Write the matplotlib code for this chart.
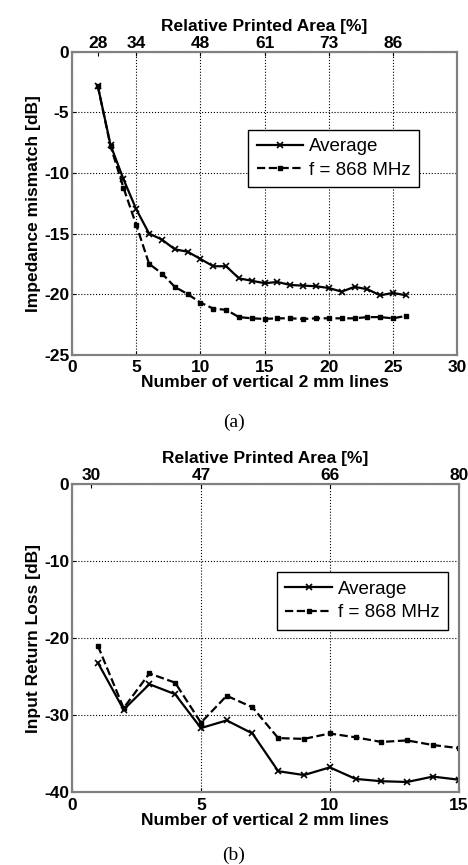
import matplotlib
matplotlib.use("Agg")
import matplotlib.pyplot as plt

plt.rcParams["font.family"] = ["Liberation Sans", "DejaVu Sans"]
plt.rcParams["font.weight"] = "bold"
plt.rcParams["axes.unicode_minus"] = False

# (a) impedance mismatch vs number of lines
a_lines = list(range(2, 27))
a_avg = [-2.8, -7.7, -10.5, -13.0, -15.0, -15.5, -16.3, -16.5, -17.1, -17.7, -17.7,
         -18.7, -18.9, -19.1, -19.0, -19.25, -19.3, -19.35, -19.5, -19.8, -19.4,
         -19.6, -20.1, -19.9, -20.1]
a_868 = [-2.8, -7.8, -11.2, -14.3, -17.5, -18.3, -19.4, -20.0, -20.7, -21.2, -21.3,
         -21.9, -22.0, -22.05, -22.0, -22.0, -22.05, -22.0, -22.0, -22.0, -22.0,
         -21.9, -21.9, -22.0, -21.8]
a_top_pos = [2, 5, 10, 15, 20, 25]
a_top_lab = ["28", "34", "48", "61", "73", "86"]

# (b) input return loss vs number of lines
b_lines = list(range(1, 16))
b_avg = [-23.2, -29.3, -26.0, -27.3, -31.7, -30.7, -32.4, -37.3, -37.8, -36.8,
         -38.3, -38.6, -38.7, -38.0, -38.4]
b_868 = [-21.0, -29.1, -24.6, -25.8, -31.0, -27.5, -29.0, -33.0, -33.1, -32.4,
         -32.9, -33.5, -33.3, -33.9, -34.3]
b_top_pos = [0.75, 5, 10, 15]
b_top_lab = ["30", "47", "66", "80"]

FS = 12.5


def style_spines(ax):
    for s in ax.spines.values():
        s.set_color("#808080")
        s.set_linewidth(1.5)


def panel(fig, rect, x, avg, f868, xlim, xticks, ylim, yticks, top_pos, top_lab,
          ylabel, leg_box):
    ax = fig.add_axes(rect)
    ax.plot(x, avg, "-", color="black", lw=1.6, marker="x", ms=5, mew=1.2,
            label="Average")
    ax.plot(x, f868, "--", color="black", lw=1.6, marker="s", ms=3,
            label="f = 868 MHz")
    ax.set_xlim(*xlim)
    ax.set_ylim(*ylim)
    ax.set_xticks(xticks)
    ax.set_yticks(yticks)
    ax.grid(True, ls=":", color="black", lw=0.8)
    ax.tick_params(axis="x", labelsize=FS, length=3, direction="in", pad=4)
    ax.tick_params(axis="y", labelsize=FS, length=3, direction="in", pad=2)
    style_spines(ax)
    ax.set_xlabel("Number of vertical 2 mm lines", fontsize=FS, fontweight="bold",
                  labelpad=0)
    ax.set_ylabel(ylabel, fontsize=FS, fontweight="bold", labelpad=2)
    top = ax.twiny()
    top.set_xlim(*xlim)
    top.set_xticks(top_pos)
    top.set_xticklabels(top_lab)
    top.tick_params(labelsize=FS, length=3, direction="in", pad=1)
    style_spines(top)
    top.set_xlabel("Relative Printed Area [%]", fontsize=FS, fontweight="bold",
                   labelpad=3)
    leg = ax.legend(loc="upper left", bbox_to_anchor=leg_box, fontsize=FS + 1,
                    fancybox=False, edgecolor="black", framealpha=1,
                    handlelength=2.5, borderaxespad=0, handletextpad=0.3,
                    labelspacing=0.35, borderpad=0.45)
    leg.get_frame().set_linewidth(1.0)
    for t in leg.get_texts():
        t.set_fontweight("normal")
    return ax


fig = plt.figure(figsize=(4.68, 8.65), dpi=100)

panel(fig, [0.154, 0.590, 0.823, 0.350], a_lines, a_avg, a_868, (0, 30),
      [0, 5, 10, 15, 20, 25, 30], (-25, 0), [-25, -20, -15, -10, -5, 0],
      a_top_pos, a_top_lab, "Impedance mismatch [dB]", (0.457, 0.743))

panel(fig, [0.154, 0.0844, 0.826, 0.356], b_lines, b_avg, b_868, (0, 15),
      [0, 5, 10, 15], (-40, 0), [-40, -30, -20, -10, 0],
      b_top_pos, b_top_lab, "Input Return Loss [dB]", (0.53, 0.714))

fig.text(0.5, 1 - 422 / 865, "(a)", ha="center", va="center", fontsize=14,
         family="Liberation Serif", fontweight="normal")
fig.text(0.5, 1 - 855 / 865, "(b)", ha="center", va="center", fontsize=14,
         family="Liberation Serif", fontweight="normal")

fig.savefig("out.png", dpi=100)
